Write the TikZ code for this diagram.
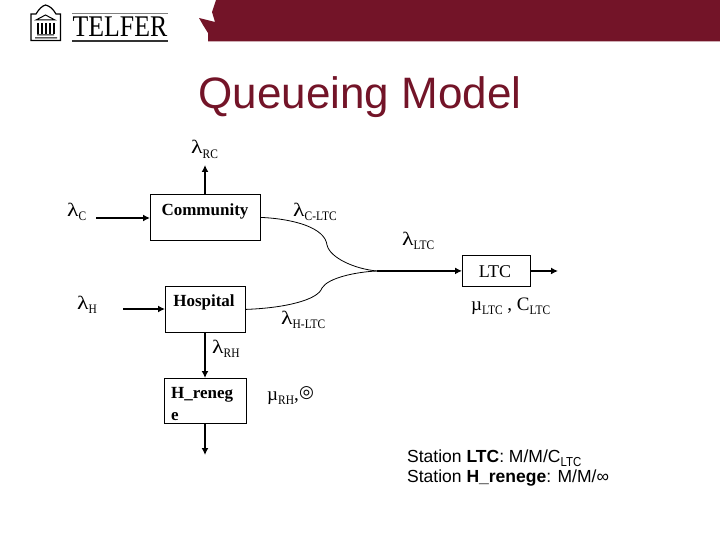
\documentclass[tikz,border=0pt]{standalone}
\usepackage{graphicx}
\usepackage{fontspec}
\setmainfont{Liberation Serif}
\setsansfont{Liberation Sans}
\newfontfamily\symfont{DejaVu Sans}
\usetikzlibrary{arrows.meta,positioning,calc}
\definecolor{telferred}{RGB}{115,20,40}
\newcommand{\lam}{\scalebox{1.25}[1]{λ}}
\newcommand{\rsub}[1]{\raisebox{-4.5pt}{\scalebox{0.88}[1]{\fontsize{13}{14}\selectfont #1}}}
\begin{document}
\begin{tikzpicture}[x=1pt,y=-1pt,>={Latex[length=7pt,width=7pt]}]
\tikzstyle{station}=[draw,line width=0.8pt,inner sep=0pt,anchor=north west]
\tikzstyle{boxtext}=[font=\fontsize{17}{20}\selectfont\bfseries,inner sep=0pt,anchor=base]
\tikzstyle{rate}=[font=\fontsize{19}{22}\selectfont,inner sep=0pt,anchor=base west]
\tikzstyle{flow}=[->,line width=1.8pt]
\tikzstyle{merge}=[line width=0.8pt]
\useasboundingbox (0,0) rectangle (720,540);
% banner
\fill[telferred] (216,0)--(720,0)--(720,41.5)--(208,41.5)--(208,33)--(203,25)--(199,18)--(215,22)--(212,12)--cycle;
% logo
\draw[line width=1.2pt] (31,40.5)--(31,14)--(36,14) .. controls (39,9) and (42,6) .. (45.5,5) .. controls (50,6) and (53,9) .. (56,14)--(60.5,14)--(60.5,40.5)--cycle;
\draw[line width=1pt] (36,20)--(45.5,15)--(55,20)--cycle (37,35)--(54,35) (35,38)--(57,38);
\foreach \x in {38,42,46,50,54} \draw[line width=1.2pt] (\x,23)--(\x,34);
\draw[gray,line width=0.6pt] (72,13.5)--(168,13.5);
\draw[line width=1.5pt,black!80] (72,41)--(168,41);
\node[font=\fontsize{30}{32}\selectfont,inner sep=0pt,anchor=base] (telfer) at (120,37) {\scalebox{0.86}[1]{TELFER}};
% title
\node[font=\sffamily\fontsize{44}{50}\selectfont,text=telferred,inner sep=0pt,anchor=base] (title) at (360,109) {Queueing Model};
% stations
\node[station,minimum width=110,minimum height=46] (comm) at (150,194) {};
\node[station,minimum width=80,minimum height=46] (hosp) at (165,286) {};
\node[station,minimum width=82,minimum height=45] (reneg) at (164,378) {};
\node[station,minimum width=68,minimum height=31] (ltc) at (462,255) {};
\node[boxtext] (commtxt) at (205,215) {Community};
\node[boxtext] (hosptxt) at (204,306) {Hospital};
\node[boxtext,anchor=base west] (renegtxt) at (171,398) {H\_reneg};
\node[boxtext,anchor=base west] (renegtxtb) at (171,420) {e};
\node[font=\fontsize{18}{20}\selectfont,inner sep=0pt,anchor=base] (ltctxt) at (495,277) {LTC};
% rates
\node[rate] (lrc) at (191,154) {\lam\rsub{RC}};
\node[rate] (lc) at (67,216) {\lam\rsub{C}};
\node[rate] (lh) at (77,309) {\lam\rsub{H}};
\node[rate] (lcltc) at (293,216) {\lam\rsub{C-LTC}};
\node[rate] (lhltc) at (281,324) {\lam\rsub{H-LTC}};
\node[rate] (lltc) at (402,245) {\lam\rsub{LTC}};
\node[rate] (mltc) at (471,310) {µ\rsub{LTC} , C\rsub{LTC}};
\node[rate] (lrh) at (212,353) {\lam\rsub{RH}};
\node[rate] (mrh) at (267,400) {µ\rsub{RH},};
\node[font=\symfont\fontsize{17}{19}\selectfont,inner sep=0pt,anchor=center] (target) at (306.5,393) {◎};
% station types
\node[font=\sffamily\fontsize{17.5}{20}\selectfont,align=left,inner sep=0pt,anchor=north west] (types) at (407,449.5)
  {Station \textbf{LTC}: M/M/C\rsub{\sffamily LTC}\\Station \textbf{H\_renege}: M/M/∞};
% connectors
\coordinate (cin) at (96,218);
\coordinate (hin) at (123,309);
\coordinate (cout) at (205,165);
\coordinate (rout) at (205,455);
\coordinate (lout) at (558,271);
\coordinate (join) at (377,271);
\draw[flow] (cin)--(cin-|comm.west);
\draw[flow] (hin)--(hin-|hosp.west);
\draw[flow] (comm.north-|cout)--(cout);
\draw[flow] (hosp.south-|cout)--(reneg.north-|cout);
\draw[flow] (reneg.south-|rout)--(rout);
\draw[flow] (join)--(ltc.west);
\draw[flow] (ltc.east)--(lout);
\draw[merge] (comm.east) .. controls (295,219) and (325,228) .. (327,245) .. controls (330,258) and (355,269) .. (join);
\draw[merge] (hosp.east) .. controls (285,308) and (318,300) .. (322,288) .. controls (328,278) and (355,272) .. (join);
\end{tikzpicture}
\end{document}
